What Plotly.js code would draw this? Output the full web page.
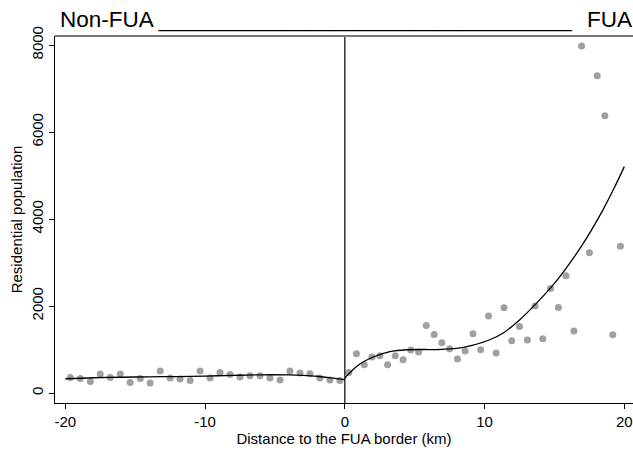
<!DOCTYPE html>
<html>
<head>
<meta charset="utf-8">
<script src="https://cdn.plot.ly/plotly-3.0.1.min.js"></script>
<style>html,body{margin:0;padding:0;background:#fff;}#chart{width:633px;height:450px;}</style>
</head>
<body>
<div id="chart"></div>
<script>
// Binned means, non-FUA side (28 bins of 20/28 km)
const leftX = [-19.64,-18.93,-18.21,-17.50,-16.79,-16.07,-15.36,-14.64,-13.93,-13.21,-12.50,-11.79,-11.07,-10.36,
               -9.64,-8.93,-8.21,-7.50,-6.79,-6.07,-5.36,-4.64,-3.93,-3.21,-2.50,-1.79,-1.07,-0.36];
const leftY = [358,335,266,436,358,436,243,335,230,505,344,322,290,505,
               344,473,427,367,397,397,344,299,505,459,443,344,300,289];
// Binned means, FUA side (36 bins of 20/36 km)
const rightX = [0.28,0.83,1.39,1.94,2.50,3.06,3.61,4.17,4.72,5.28,5.83,6.39,6.94,7.50,8.06,8.61,9.17,9.72,
                10.28,10.83,11.39,11.94,12.50,13.06,13.61,14.17,14.72,15.28,15.83,16.39,16.94,17.50,18.06,18.61,19.17,19.72];
const rightY = [473,903,650,827,857,650,857,765,988,942,1553,1346,1155,1017,781,965,1360,994,
                1770,918,1959,1201,1530,1217,1998,1247,2403,1966,2694,1424,7977,3222,7295,6376,1339,3376];
// Fitted curves
const fitLX = [-20,-18,-16,-14,-12,-10,-8,-6,-4,-3,-2,-1,0];
const fitLY = [328,350,362,372,378,388,405,418,416,405,385,350,305];
const fitRX = [0,0.4,0.84,1.4,2.03,3.22,4.42,5.6,6.8,8.0,9.18,10.38,11.33,12.5,13.72,15,16.1,17.3,18.49,19.3,20];
const fitRY = [344,480,611,730,827,949,994,1000,1000,1024,1102,1224,1378,1680,2067,2520,2986,3560,4220,4730,5204];
const xTicks = [-20,-10,0,10,20];
const yTicks = [0,2000,4000,6000,8000];
const titleLeft = 'Non-FUA _________________________________';
const titleRight = 'FUA';

const dotColor = '#a0a0a0';
const traces = [
  {x: leftX, y: leftY, type:'scatter', mode:'markers', marker:{color:dotColor, size:7}, hoverinfo:'skip'},
  {x: rightX, y: rightY, type:'scatter', mode:'markers', marker:{color:dotColor, size:7}, hoverinfo:'skip'},
  {x: fitLX, y: fitLY, type:'scatter', mode:'lines', line:{color:'#000', width:1.3, shape:'spline', smoothing:1}, hoverinfo:'skip'},
  {x: fitRX, y: fitRY, type:'scatter', mode:'lines', line:{color:'#000', width:1.3, shape:'spline', smoothing:1}, hoverinfo:'skip'}
];

const font = {family:'"Liberation Sans", Arial, sans-serif', color:'#000'};
const layout = {
  width:633, height:450,
  margin:{l:55, r:0, t:36, b:47},
  paper_bgcolor:'#fff', plot_bgcolor:'#fff',
  showlegend:false,
  font: Object.assign({size:14}, font),
  title:{text:titleLeft, xref:'container', yref:'container',
         x:60/633, xanchor:'left', y:1-19/450, yanchor:'middle',
         font: Object.assign({size:22.5}, font)},
  annotations:[
    {text:titleRight, xref:'paper', yref:'paper', x:1, y:1, xanchor:'right', yanchor:'middle',
     yshift:17, xshift:0, showarrow:false, borderpad:0, font:Object.assign({size:22.5}, font)}
  ],
  xaxis:{range:[-20.74,20.62], tickvals:xTicks, ticktext:xTicks.map(String), ticks:'outside', ticklen:5, tickwidth:1,
         tickcolor:'#000', showline:true, linecolor:'#000', linewidth:1.3, showgrid:false, zeroline:false,
         tickfont:Object.assign({size:15}, font),
         title:{text:'Distance to the FUA border (km)', font:Object.assign({size:15}, font), standoff:2}},
  yaxis:{range:[-230,8207], tickvals:yTicks, ticktext:yTicks.map(String), ticks:'outside', ticklen:5, tickwidth:1,
         tickcolor:'#000', showline:true, linecolor:'#000', linewidth:1.3, showgrid:false, zeroline:false,
         tickangle:-90, tickfont:Object.assign({size:15}, font),
         title:{text:'Residential population', font:Object.assign({size:15}, font), standoff:2}},
  shapes:[
    {type:'line', xref:'x', yref:'paper', x0:0, x1:0, y0:0, y1:1, line:{color:'#000', width:1.2}},
    {type:'line', xref:'paper', yref:'paper', x0:0, x1:1, y0:1, y1:1, line:{color:'#7a7a7a', width:2}}
  ]
};
Plotly.newPlot('chart', traces, layout, {staticPlot:true, displayModeBar:false});
</script>
</body>
</html>
